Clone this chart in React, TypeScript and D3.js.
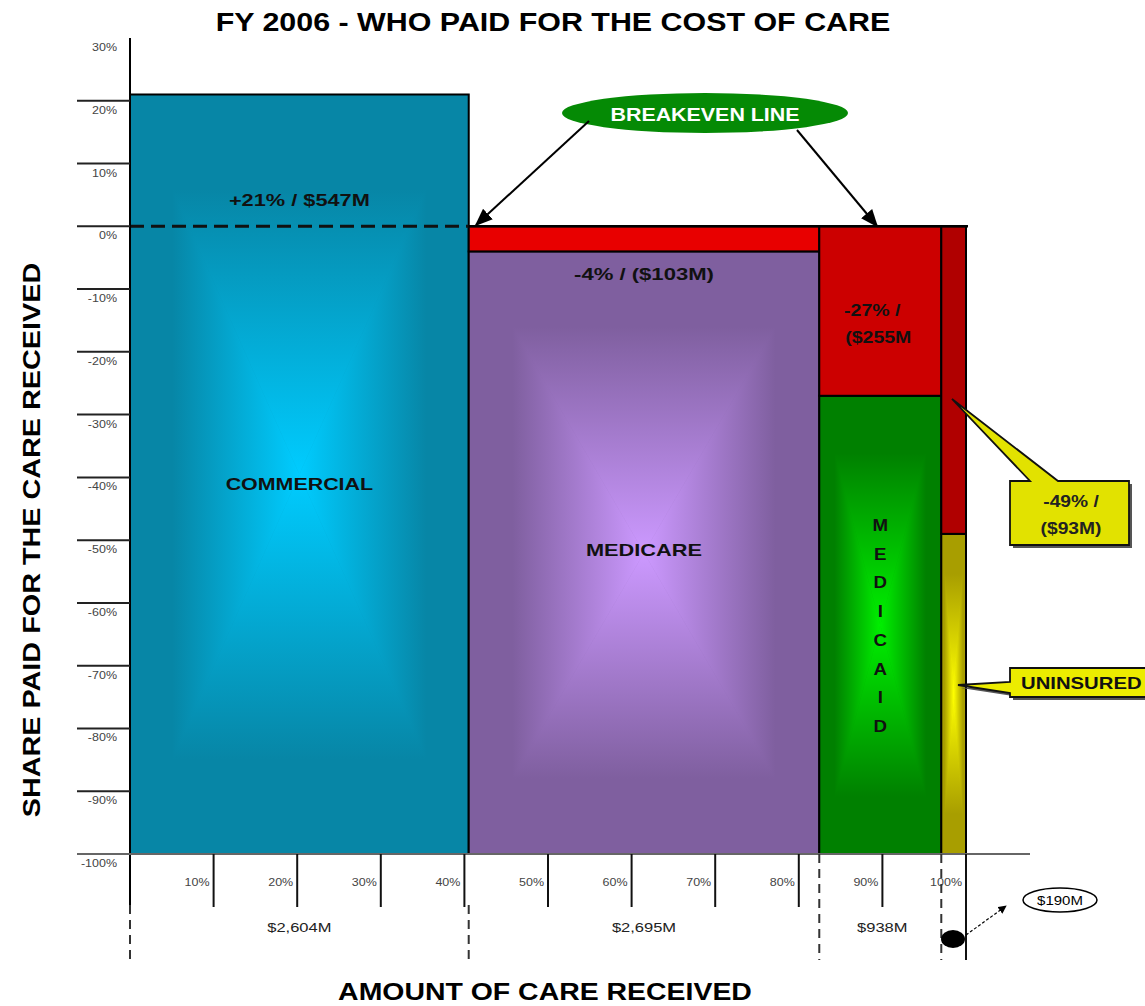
import React from "react";
import * as d3 from "d3";

const categories = ["COMMERCIAL", "MEDICARE", "MEDICAID", "UNINSURED"];
const careReceived = [2604, 2695, 938, 190]; // $M of care received
const careLabels = ["$2,604M", "$2,695M", "$938M", "$190M"];
const paidShare = [21, -4, -27, -49]; // % paid above / below cost
const gapLabels = ["+21% / $547M", "-4% / ($103M)", "-27% / |($255M", "-49% / |($93M)"];
const yTicks = [30, 20, 10, 0, -10, -20, -30, -40, -50, -60, -70, -80, -90, -100];
const xTicks = [10, 20, 30, 40, 50, 60, 70, 80, 90, 100];

const W = 1145;
const H = 1006;
const FONT = "Arial, 'Liberation Sans', Helvetica, sans-serif";

const fills = [
  { edge: "#0786a6", center: "#00ccff" },
  { edge: "#7f5f9f", center: "#cc99ff" },
  { edge: "#008000", center: "#00f000" },
  { edge: "#a89e00", center: "#ffff00" },
];
const lossFills = ["none", "#e80000", "#cc0000", "#b00000"];

function T({ x, y, size, sx = 1.25, anchor = "middle", bold = false, fill = "#111", children }: any) {
  return (
    <text
      transform={`translate(${x},${y}) scale(${sx},1)`}
      textAnchor={anchor}
      fontSize={size}
      fontWeight={bold ? "bold" : "normal"}
      fill={fill}
    >
      {children}
    </text>
  );
}

function RectGrad({ id, x0, y0, x1, y1, edge, center }: any) {
  const cx = (x0 + x1) / 2;
  const cy = (y0 + y1) / 2;
  const sides = [
    { k: "t", pts: [[x0, y0], [x1, y0], [cx, cy]], g: [cx, y0, cx, cy] },
    { k: "b", pts: [[x0, y1], [x1, y1], [cx, cy]], g: [cx, y1, cx, cy] },
    { k: "l", pts: [[x0, y0], [x0, y1], [cx, cy]], g: [x0, cy, cx, cy] },
    { k: "r", pts: [[x1, y0], [x1, y1], [cx, cy]], g: [x1, cy, cx, cy] },
  ];
  return (
    <g>
      <defs>
        {sides.map((s) => (
          <linearGradient
            key={s.k}
            id={`${id}-${s.k}`}
            gradientUnits="userSpaceOnUse"
            x1={s.g[0]}
            y1={s.g[1]}
            x2={s.g[2]}
            y2={s.g[3]}
          >
            <stop offset="0" stopColor={edge} />
            <stop offset="0.25" stopColor={edge} />
            <stop offset="1" stopColor={center} />
          </linearGradient>
        ))}
      </defs>
      <rect x={x0} y={y0} width={x1 - x0} height={y1 - y0} fill={edge} />
      {sides.map((s) => (
        <polygon
          key={s.k}
          points={s.pts.map((p) => p.join(",")).join(" ")}
          fill={`url(#${id}-${s.k})`}
          stroke={`url(#${id}-${s.k})`}
          strokeWidth={0.6}
        />
      ))}
    </g>
  );
}

export default function App() {
  const y = d3.scaleLinear().domain([-100, 30]).range([854, 38]);
  const xPct = d3.scaleLinear().domain([0, 100]).range([130, 966]);
  const total = d3.sum(careReceived);
  const xAmt = d3.scaleLinear().domain([0, total]).range([130, 966]);
  const ends = Array.from(d3.cumsum(careReceived));
  const starts = [0, ...ends.slice(0, -1)];
  const edges = [0, ...ends].map((v) => xAmt(v));

  const bars = categories.map((c, i) => ({
    name: c,
    x0: xAmt(starts[i]),
    x1: xAmt(ends[i]),
    share: paidShare[i],
  }));

  const y0 = y(0);
  const yBottom = y(-100);
  const mid = (i: number) => (edges[i] + edges[i + 1]) / 2;

  return (
    <svg
      width={W}
      height={H}
      style={{ position: "absolute", left: 0, top: 0, background: "#fff" }}
      fontFamily={FONT}
    >
      <defs>
        <marker id="arr" viewBox="0 0 10 10" refX="9" refY="5" markerWidth="7" markerHeight="7" orient="auto-start-reverse">
          <path d="M0,0 L10,5 L0,10 z" fill="#000" />
        </marker>
        <marker id="arrS" viewBox="0 0 10 10" refX="9" refY="5" markerWidth="9" markerHeight="9" orient="auto-start-reverse">
          <path d="M0,1 L10,5 L0,9 z" fill="#000" />
        </marker>
      </defs>

      {/* Title */}
      <T x={553} y={31} size={26} sx={1.17} bold fill="#000">
        FY 2006 - WHO PAID FOR THE COST OF CARE
      </T>

      {/* y-axis title */}
      <text
        transform={`translate(40,540) rotate(-90) scale(1.2,1)`}
        textAnchor="middle"
        fontSize={24}
        fontWeight="bold"
        fill="#000"
      >
        SHARE PAID FOR THE CARE RECEIVED
      </text>

      {/* x-axis title */}
      <T x={545} y={1000} size={23.5} sx={1.21} bold fill="#000">
        AMOUNT OF CARE RECEIVED
      </T>

      {/* Bars */}
      {bars.map((b, i) => {
        const top = y(b.share);
        return (
          <g key={b.name}>
            <RectGrad
              id={`g${i}`}
              x0={b.x0}
              y0={top}
              x1={b.x1}
              y1={yBottom}
              edge={fills[i].edge}
              center={fills[i].center}
            />
            <rect x={b.x0} y={top} width={b.x1 - b.x0} height={yBottom - top} fill="none" stroke="#000" strokeWidth={2} />
            {b.share < 0 && (
              <rect
                x={b.x0}
                y={y0}
                width={b.x1 - b.x0}
                height={y(b.share) - y0}
                fill={lossFills[i]}
                stroke="#000"
                strokeWidth={2}
              />
            )}
          </g>
        );
      })}

      {/* Breakeven dashed line over commercial */}
      <line x1={130} x2={edges[1]} y1={y0} y2={y0} stroke="#111" strokeWidth={3} strokeDasharray="14,7" />
      <line x1={edges[1]} x2={edges[4] + 2} y1={y0} y2={y0} stroke="#000" strokeWidth={2.5} />

      {/* Y axis */}
      <line x1={130} x2={130} y1={38} y2={905} stroke="#000" strokeWidth={2} />
      {yTicks.map((t) => (
        <g key={t}>
          {t !== 30 && (
            <line x1={77} x2={130} y1={y(t)} y2={y(t)} stroke="#222" strokeWidth={2} />
          )}
          <T x={117} y={y(t) + 13} size={10} sx={1.25} anchor="end" fill="#444">
            {`${t}%`}
          </T>
        </g>
      ))}

      {/* X axis */}
      <line x1={77} x2={1030} y1={yBottom} y2={yBottom} stroke="#666" strokeWidth={2} />
      {xTicks.map((t) => (
        <g key={t}>
          <line x1={xPct(t)} x2={xPct(t)} y1={yBottom} y2={t === 100 ? 960 : 907} stroke="#111" strokeWidth={2} />
          <T x={xPct(t) - 4} y={886} size={10} sx={1.25} anchor="end" fill="#444">
            {`${t}%`}
          </T>
        </g>
      ))}

      {/* Dashed segment dividers */}
      {edges.slice(0, 4).map((ex, i) => (
        <line
          key={i}
          x1={ex}
          x2={ex}
          y1={i === 0 || i === 1 ? 905 : yBottom}
          y2={960}
          stroke="#333"
          strokeWidth={2}
          strokeDasharray="9,6"
        />
      ))}

      {/* Amount labels */}
      {careLabels.slice(0, 3).map((l, i) => (
        <T key={l} x={mid(i) + (i === 2 ? 2 : 0)} y={932} size={13} sx={1.27} fill="#222">
          {l}
        </T>
      ))}

      {/* Uninsured $190M marker */}
      <ellipse cx={953} cy={939} rx={12} ry={9} fill="#000" />
      <line x1={966} x2={1006} y1={935} y2={906} stroke="#000" strokeWidth={1.2} strokeDasharray="3,2" markerEnd="url(#arr)" />
      <ellipse cx={1060} cy={900} rx={37} ry={12} fill="#fff" stroke="#000" strokeWidth={1.5} />
      <T x={1060} y={904.5} size={12} sx={1.25} fill="#000">
        {careLabels[3]}
      </T>

      {/* Gap labels inside bars */}
      <T x={mid(0)} y={y0 - 20} size={17} sx={1.28} bold>
        {gapLabels[0]}
      </T>
      <T x={mid(1)} y={y0 + 54} size={17} sx={1.3} bold>
        {gapLabels[1]}
      </T>
      {gapLabels[2].split("|").map((s, k) => (
        <T key={k} x={mid(2) - 8 + k * 6} y={y0 + 90 + k * 27} size={17} sx={1.15} bold>
          {s}
        </T>
      ))}

      {/* Category labels */}
      <T x={mid(0)} y={y(-41) + 6} size={17} sx={1.26} bold>
        {categories[0]}
      </T>
      <T x={mid(1)} y={y(-51.5) + 6} size={17} sx={1.28} bold>
        {categories[1]}
      </T>
      {categories[2].split("").map((ch, k) => (
        <T key={k} x={mid(2)} y={531 + k * 28.7} size={17} sx={1.1} bold>
          {ch}
        </T>
      ))}

      {/* Breakeven callout */}
      <ellipse cx={705} cy={113} rx={143} ry={20} fill="#058a05" />
      <T x={705} y={121} size={18} sx={1.19} bold fill="#fff">
        BREAKEVEN LINE
      </T>
      <line x1={589} x2={476} y1={121} y2={225} stroke="#000" strokeWidth={2} markerEnd="url(#arrS)" />
      <line x1={797} x2={877} y1={130} y2={226} stroke="#000" strokeWidth={2} markerEnd="url(#arrS)" />

      {/* -49% callout */}
      <path d="M1013,484 L1033,484 L955,402 L1061,484 L1132,484 L1132,548 L1013,548 Z" fill="#555" />
      <path
        d="M1010,481 L1030,481 L952,399 L1058,481 L1129,481 L1129,545 L1010,545 Z"
        fill="#e2e200"
        stroke="#111"
        strokeWidth={1.8}
      />
      {gapLabels[3].split("|").map((s, k) => (
        <T key={k} x={1071} y={507 + k * 27} size={16} sx={1.2} bold fill="#222">
          {s}
        </T>
      ))}

      {/* UNINSURED callout */}
      <path d="M1013,671 L1150,671 L1150,700 L1013,700 L1013,696 L961,688 L1013,685 Z" fill="#555" />
      <path
        d="M1010,668 L1150,668 L1150,697 L1010,697 L1010,693 L958,685 L1010,682 Z"
        fill="#ecec00"
        stroke="#111"
        strokeWidth={1.8}
      />
      <T x={1021} y={689} size={16.5} sx={1.23} anchor="start" bold>
        {categories[3]}
      </T>
    </svg>
  );
}
